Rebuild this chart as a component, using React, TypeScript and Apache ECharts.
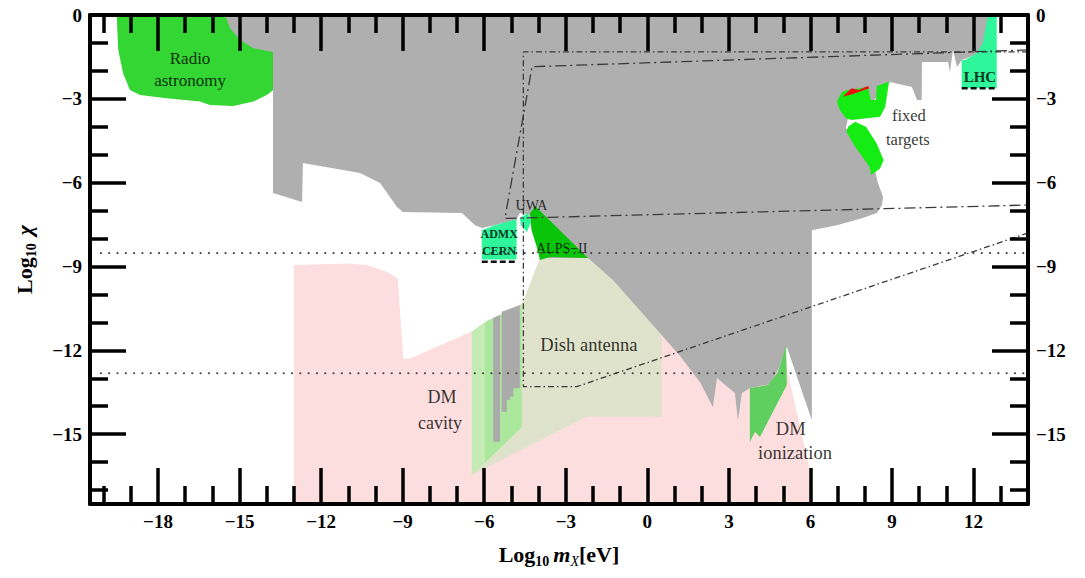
import React, { useEffect, useRef } from 'react';
import * as echarts from 'echarts';

// Axis ranges (log10 m in eV, log10 chi)
const X_RANGE = [-20.5, 14];
const Y_RANGE = [-17.5, 0];
const xMajorTicks = [-18, -15, -12, -9, -6, -3, 0, 3, 6, 9, 12];
const xMinorTicks = [-20, -19, -17, -16, -14, -13, -11, -10, -8, -7, -5, -4, -2, -1, 1, 2, 4, 5, 7, 8, 10, 11, 13];
const yMajorTicks = [0, -3, -6, -9, -12, -15];
const yMinorTicks = [-1, -2, -4, -5, -7, -8, -10, -11, -13, -14, -16, -17];

// Regions as [log10 m, log10 chi] outlines
const excludedRegion = [
  [-15.53, 0], [12.67, 0], [12.42, -1.07], [12.05, -1.43], [11.57, -1.61], [11.39, -1.86], [11.24, -1.25],
  [11.13, -2.04], [11.06, -1.68], [10.1, -1.68], [10.09, -3.04], [9.92, -3.04], [9.73, -2.58], [8.92, -2.4],
  [8.19, -3.22], [7.38, -3.69], [7.3, -4.04], [8.0, -4.83], [8.37, -5.55], [8.48, -6.01], [8.67, -6.51],
  [8.63, -6.8], [8.44, -7.09], [7.89, -7.27], [6.97, -7.52], [6.05, -7.7], [6.05, -14.5], [5.13, -11.88],
  [4.8, -12.71], [4.51, -13.21], [3.77, -13.35], [3.48, -13.53], [3.33, -14.5], [3.22, -13.53], [2.56, -12.99],
  [2.41, -14.03], [1.94, -13.14], [1.2, -12.2], [0.46, -11.38], [-1.27, -9.48], [-2.18, -8.7], [-3.77, -8.7],
  [-4.32, -7.16], [-4.69, -7.09], [-4.83, -7.34], [-6.08, -7.62], [-6.34, -7.52], [-6.82, -7.09], [-8.99, -7.05],
  [-9.21, -6.87], [-9.83, -6.01], [-10.57, -5.65], [-11.56, -5.48], [-12.67, -5.3], [-12.7, -6.69], [-13.77, -6.37],
  [-13.77, -1.32], [-13.99, -1.29], [-14.51, -1.18], [-14.98, -0.89], [-15.35, -0.47],
];
const darkMatterRegion = [
  [-13, -8.95], [-10.94, -8.89], [-10.32, -8.95], [-9.59, -9.19], [-9.18, -9.42], [-8.98, -12.29], [-8.73, -12.29],
  [-6.46, -11.33], [-4.69, -10.38], [-4.58, -10.31], [-3.95, -8.7], [-1.74, -8.7], [1.94, -10.2], [5.06, -11.81],
  [5.17, -12.81], [5.94, -16.11], [5.98, -17.5], [-13, -17.5],
];
const dishAntenna = [
  [-3.95, -8.7], [-2.18, -8.7], [-1.27, -9.48], [0.46, -11.38], [0.53, -11.56], [0.53, -14.38], [-2.23, -14.38],
  [-6.46, -16.46], [-4.69, -10.38], [-4.58, -10.31],
];
const cavityOuter = [[-6.46, -11.33], [-5.97, -10.99], [-5.97, -16.02], [-6.46, -16.46]];
const cavityInner = [[-5.97, -10.99], [-5.68, -10.84], [-4.62, -10.38], [-4.62, -14.75], [-5.97, -16.02]];
const cavityLimitA = [[-5.67, -10.84], [-5.42, -10.74], [-5.42, -15.27], [-5.67, -15.27]];
const cavityLimitB = [
  [-5.36, -10.62], [-4.69, -10.38], [-4.69, -13.36], [-4.93, -13.36], [-4.93, -13.66], [-5.05, -13.66],
  [-5.05, -13.78], [-5.17, -13.78], [-5.17, -14.2], [-5.36, -14.2],
];
const radioAstronomy = [
  [-19.52, 0], [-19.46, -1.25], [-19.28, -2.09], [-19.03, -2.68], [-18.66, -2.86], [-17.68, -2.98], [-16.45, -3.1],
  [-16.09, -3.22], [-15.23, -3.26], [-14.49, -3.1], [-14.0, -2.86], [-13.76, -2.68], [-13.76, 0],
];
const admxCern = [[-6.09, -7.7], [-5.61, -7.52], [-5.17, -7.4], [-4.81, -7.31], [-4.81, -8.75], [-6.09, -8.75]];
const uwa = [[-4.69, -7.27], [-4.39, -7.09], [-4.28, -7.41], [-4.43, -7.77], [-4.65, -7.52]];
const alpsII = [[-4.32, -7.1], [-4.12, -6.84], [-2.18, -8.7], [-3.58, -8.66], [-3.95, -8.77], [-4.07, -8.29], [-4.26, -7.7]];
const lhc = [[11.56, -1.61], [11.56, -2.62], [12.85, -2.62], [12.85, 0], [12.53, 0], [12.34, -1.0], [12.11, -1.37], [11.68, -1.61]];
const fixedTargetsUpper = [
  [6.97, -3.1], [7.16, -2.76], [7.38, -2.68], [8.11, -2.58], [8.22, -3.04], [8.41, -3.04], [8.44, -2.54],
  [8.89, -2.39], [8.75, -3.28], [8.56, -3.64], [7.51, -3.76], [7.32, -3.7], [7.08, -3.4],
];
const fixedTargetsRed = [[7.19, -2.92], [7.51, -2.62], [7.78, -2.68], [8.1, -2.54], [8.17, -2.62], [7.45, -2.86]];
const fixedTargetsLower = [
  [7.38, -4.0], [7.64, -3.82], [8.04, -4.0], [8.43, -4.59], [8.69, -5.19], [8.56, -5.49], [8.3, -5.67],
  [8.23, -5.73], [8.17, -5.43], [7.64, -4.71], [7.32, -4.18],
];
const dmIonization = [
  [3.77, -13.35], [4.44, -13.24], [4.8, -12.78], [4.99, -12.2], [5.1, -11.81], [5.13, -13.24], [4.14, -15.1],
  [3.96, -14.92], [3.77, -15.28],
];

// Projected sensitivities
const projectionA = [[14, -1.32], [-4.56, -1.32], [-4.56, -13.3], [-2.6, -13.3], [14, -7.8]];
const projectionB = [[14, -1.25], [-4.24, -1.85], [-5.24, -7.28], [14, -6.8]];
const admxReach = [[-6.09, -8.83], [-4.81, -8.83]];
const lhcReach = [[11.56, -2.62], [12.85, -2.62]];
const dottedLevels = [-8.52, -12.82];
const dottedStart = -20.1;

// Region names placed at [log10 m, log10 chi]
const regionLabels = [
  { text: 'Radio', x: -16.82, y: -1.54 },
  { text: 'astronomy', x: -16.82, y: -2.35 },
  { text: 'fixed', x: 9.62, y: -3.58 },
  { text: 'targets', x: 9.58, y: -4.44 },
  { text: 'LHC', x: 12.23, y: -2.23 },
  { text: 'UWA', x: -4.26, y: -6.83 },
  { text: 'ADMX', x: -5.45, y: -7.84 },
  { text: 'CERN', x: -5.45, y: -8.44 },
  { text: 'ALPS\u2212II', x: -3.15, y: -8.35 },
  { text: 'Dish antenna', x: -2.15, y: -11.81 },
  { text: 'DM', x: -7.55, y: -13.67 },
  { text: 'cavity', x: -7.63, y: -14.6 },
  { text: 'DM ', x: 5.36, y: -14.82 },
  { text: 'ionization', x: 5.43, y: -15.68 },
];

const FONT = '"Liberation Serif", "Times New Roman", "DejaVu Serif", serif';
const labelStyle: Record<string, { size: number; bold?: boolean }> = {
  Radio: { size: 17 },
  astronomy: { size: 17 },
  fixed: { size: 16.5 },
  targets: { size: 16.5 },
  LHC: { size: 15, bold: true },
  UWA: { size: 14 },
  ADMX: { size: 12, bold: true },
  CERN: { size: 12, bold: true },
  'ALPS\u2212II': { size: 14 },
  'Dish antenna': { size: 18.5 },
  DM: { size: 18 },
  cavity: { size: 18 },
  'DM ': { size: 18.5 },
  ionization: { size: 18.5 },
};

const fmt = (v: number) => (v < 0 ? '\u2212' + Math.abs(v) : String(v));

function makeAxis(kind: 'x' | 'y', position: string, ticks: number[], len: number, main: boolean, labels: boolean) {
  const range = kind === 'x' ? X_RANGE : Y_RANGE;
  return {
    type: 'value',
    position,
    min: range[0],
    max: range[1],
    z: 20,
    axisLine: { show: main, onZero: false, lineStyle: { color: '#000', width: 4 } },
    axisTick: { show: true, inside: true, length: len, customValues: ticks, lineStyle: { color: '#000', width: 3.5 } },
    axisLabel: {
      show: labels,
      customValues: ticks,
      formatter: fmt,
      margin: 8,
      fontFamily: FONT,
      fontWeight: 'bold',
      fontSize: 19,
      color: '#000',
    },
    splitLine: { show: false },
    splitArea: { show: false },
  };
}

function region(name: string, pts: number[][], color: string, z: number) {
  return {
    type: 'custom',
    name,
    coordinateSystem: 'cartesian2d',
    xAxisIndex: 0,
    yAxisIndex: 0,
    silent: true,
    z,
    data: pts,
    renderItem: (params: any, api: any) => {
      if (params.dataIndex !== 0) return null;
      return {
        type: 'polygon',
        shape: { points: pts.map((p) => api.coord(p)) },
        style: { fill: color, stroke: 'none' },
      };
    },
  };
}

function path(data: number[][], color: string, width: number, dash: number[], z: number, cap = 'butt') {
  return {
    type: 'line',
    xAxisIndex: 0,
    yAxisIndex: 0,
    data,
    symbol: 'none',
    silent: true,
    z,
    lineStyle: { color, width, type: dash, cap },
  };
}

export default function App() {
  const ref = useRef<HTMLDivElement>(null);

  useEffect(() => {
    if (!ref.current) return;
    const chart = echarts.init(ref.current, undefined, { renderer: 'svg' });

    const nameRich = {
      b: { fontFamily: FONT, fontWeight: 'bold', fontSize: 22, lineHeight: 28, color: '#000' },
      s: { fontFamily: FONT, fontWeight: 'bold', fontSize: 14, lineHeight: 14, verticalAlign: 'bottom', color: '#000', padding: [0, 4, 0, 0] },
      m: { fontFamily: FONT, fontWeight: 'bold', fontStyle: 'italic', fontSize: 22, lineHeight: 28, color: '#000' },
      c: { fontFamily: FONT, fontWeight: 'bold', fontStyle: 'italic', fontSize: 22, lineHeight: 28, color: '#000', padding: [0, 0, 0, 4] },
      sx: { fontFamily: FONT, fontStyle: 'italic', fontSize: 14, lineHeight: 14, verticalAlign: 'bottom', color: '#000' },
    };

    const bottomMain: any = makeAxis('x', 'bottom', xMajorTicks, 36, true, true);
    bottomMain.name = '{b|Log}{s|10}{m|m}{sx|X}{b|[eV]}';
    bottomMain.nameLocation = 'middle';
    bottomMain.nameGap = 36;
    bottomMain.nameTextStyle = { rich: nameRich };

    const leftMain: any = makeAxis('y', 'left', yMajorTicks, 36, true, true);
    leftMain.name = '{b|Log}{s|10}{c|\u03c7}';
    leftMain.nameLocation = 'middle';
    leftMain.nameRotate = 90;
    leftMain.nameGap = 52;
    leftMain.nameTextStyle = { rich: nameRich };

    const series: any[] = [
      region('dark matter', darkMatterRegion, '#fddede', 1),
      region('dish antenna', dishAntenna, '#e0e3cb', 2),
      region('cavity outer', cavityOuter, '#c3ebb3', 3),
      region('cavity inner', cavityInner, '#abe79d', 3),
      region('cavity limit a', cavityLimitA, '#aaaaaa', 4),
      region('cavity limit b', cavityLimitB, '#aaaaaa', 4),
      region('radio astronomy', radioAstronomy, '#33d633', 4),
      region('excluded', excludedRegion, '#afafaf', 5),
      region('ADMX CERN', admxCern, '#2ff59b', 6),
      region('UWA', uwa, '#2ff59b', 6),
      region('ALPS-II', alpsII, '#0ac40a', 6),
      region('LHC', lhc, '#2ff59b', 6),
      region('fixed targets upper', fixedTargetsUpper, '#14ec14', 6),
      region('fixed targets red', fixedTargetsRed, '#ee1010', 6),
      region('fixed targets lower', fixedTargetsLower, '#14ec14', 6),
      region('DM ionization', dmIonization, '#5fcf5f', 6),
      ...dottedLevels.map((y) => path([[dottedStart, y], [X_RANGE[1], y]], '#444', 2.2, [0.01, 8.3], 7, 'round')),
      path(projectionA, '#3a3a3a', 1.3, [6, 3, 1.5, 3], 7),
      path(projectionB, '#3a3a3a', 1.3, [11, 4, 2, 4], 7),
      path(admxReach, '#111', 2.5, [6, 3], 7),
      path(lhcReach, '#111', 2.5, [6, 3], 7),
      {
        type: 'scatter',
        xAxisIndex: 0,
        yAxisIndex: 0,
        symbol: 'circle',
        symbolSize: 1,
        itemStyle: { color: 'rgba(0,0,0,0)' },
        silent: true,
        z: 9,
        data: regionLabels.map((l) => ({
          value: [l.x, l.y],
          name: l.text,
          label: {
            fontSize: labelStyle[l.text].size,
            fontWeight: labelStyle[l.text].bold ? 'bold' : 'normal',
          },
        })),
        label: {
          show: true,
          position: 'inside',
          formatter: '{b}',
          color: '#000',
          fontFamily: FONT,
        },
      },
    ];

    chart.setOption({
      animation: false,
      backgroundColor: '#fff',
      grid: { left: 90, right: 57, top: 15, bottom: 74, containLabel: false, outerBoundsMode: 'none' },
      xAxis: [
        bottomMain,
        makeAxis('x', 'bottom', xMinorTicks, 18, false, false),
        makeAxis('x', 'top', xMajorTicks, 36, true, false),
        makeAxis('x', 'top', xMinorTicks, 18, false, false),
      ],
      yAxis: [
        leftMain,
        makeAxis('y', 'left', yMinorTicks, 18, false, false),
        makeAxis('y', 'right', yMajorTicks, 36, true, true),
        makeAxis('y', 'right', yMinorTicks, 18, false, false),
      ],
      series,
    });

    return () => chart.dispose();
  }, []);

  return <div ref={ref} style={{ position: 'fixed', left: 0, top: 0, width: 1085, height: 578 }} />;
}
